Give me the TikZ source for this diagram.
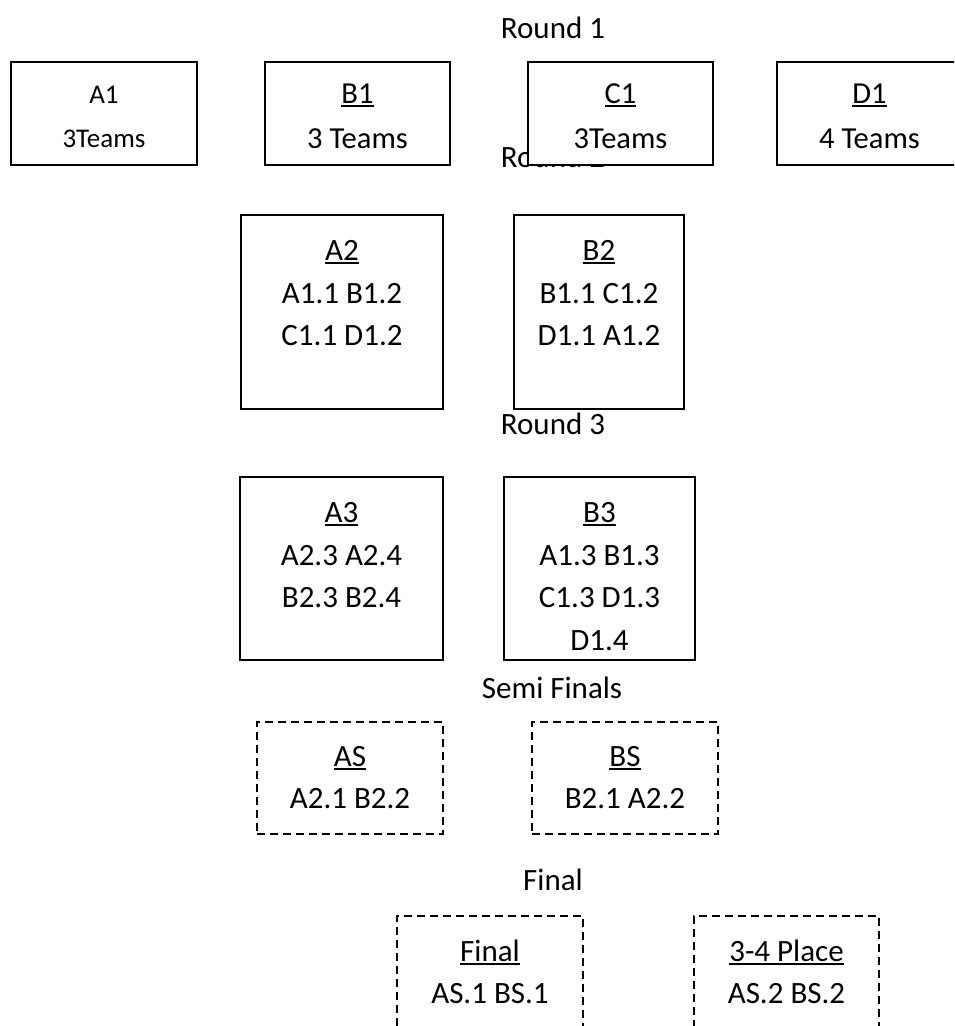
\documentclass[tikz,border=0pt]{standalone}
\usepackage{fontspec}
\setmainfont{Carlito}
\newcommand\myul[1]{\setbox0=\hbox{#1}\rlap{\rule[-4pt]{\wd0}{2.4pt}}\box0}
\tikzset{
  box/.style={draw, line width=1.5pt, fill=white, rectangle, inner sep=0pt, outer sep=0pt, anchor=north west},
  dbox/.style={box, dash pattern=on 8pt off 5pt},
  txt/.style={anchor=base, inner sep=0pt, font=\fontsize{31}{37}\selectfont},
  rtxt/.style={txt, font=\fontsize{30.5}{36}\selectfont},
  stxt/.style={txt, font=\fontsize{27}{32}\selectfont}
}
\begin{document}
\begin{tikzpicture}[x=1pt,y=-1pt]
\useasboundingbox (0,0) rectangle (954,1026);
\clip (0,0) rectangle (954,1026);
% headings
\node[txt] (r1) at (553,38) {Round 1};
\node[txt] (r2) at (553,167) {Round 2};
% Round 1
\node[box, minimum width=186pt, minimum height=103pt] (a1) at (11,62) {};
\node[box, minimum width=185pt, minimum height=103pt] (b1) at (265,62) {};
\node[box, minimum width=185pt, minimum height=103pt] (c1) at (528,62) {};
\node[box, minimum width=185pt, minimum height=103pt] (d1) at (777,62) {};
\node[stxt] (a1t) at (104,103) {A1};
\node[stxt] (a1n) at (104,147) {3Teams};
\node[rtxt] (b1t) at (357.5,103) {\myul{B1}};
\node[rtxt] (b1n) at (357.5,148) {3 Teams};
\node[rtxt] (c1t) at (620.5,103) {\myul{C1}};
\node[rtxt] (c1n) at (620.5,148) {3Teams};
\node[rtxt] (d1t) at (869.5,103) {\myul{D1}};
\node[rtxt] (d1n) at (869.5,148) {4 Teams};
% Round 2
\node[box, minimum width=202pt, minimum height=194pt] (a2) at (241,215) {};
\node[box, minimum width=170pt, minimum height=194pt] (b2) at (514,215) {};
\node[txt] (a2t) at (342,260) {\myul{A2}};
\node[txt] (a2l1) at (342,303) {A1.1 B1.2};
\node[txt] (a2l2) at (342,345) {C1.1 D1.2};
\node[txt] (b2t) at (599,260) {\myul{B2}};
\node[txt] (b2l1) at (599,303) {B1.1 C1.2};
\node[txt] (b2l2) at (599,345) {D1.1 A1.2};
% Round 3
\node[txt] (r3) at (553,434) {Round 3};
\node[box, minimum width=203pt, minimum height=183pt] (a3) at (240,477) {};
\node[box, minimum width=191pt, minimum height=183pt] (b3) at (504,477) {};
\node[txt] (a3t) at (341.5,522) {\myul{A3}};
\node[txt] (a3l1) at (341.5,565) {A2.3 A2.4};
\node[txt] (a3l2) at (341.5,607) {B2.3 B2.4};
\node[txt] (b3t) at (599.5,522) {\myul{B3}};
\node[txt] (b3l1) at (599.5,565) {A1.3 B1.3};
\node[txt] (b3l2) at (599.5,607) {C1.3 D1.3};
\node[txt] (b3l3) at (599.5,650) {D1.4};
% Semi finals
\node[txt] (sf) at (552,698) {Semi Finals};
\node[dbox, minimum width=186pt, minimum height=112pt] (as) at (257,722) {};
\node[dbox, minimum width=186pt, minimum height=112pt] (bs) at (532,722) {};
\node[txt] (ast) at (350,766) {\myul{AS}};
\node[txt] (asl) at (350,808) {A2.1 B2.2};
\node[txt] (bst) at (625,766) {\myul{BS}};
\node[txt] (bsl) at (625,808) {B2.1 A2.2};
% Final
\node[txt] (fl) at (553,890) {Final};
\node[dbox, minimum width=186pt, minimum height=150pt] (fb) at (397,916) {};
\node[dbox, minimum width=185pt, minimum height=150pt] (pb) at (694,916) {};
\node[txt] (fbt) at (490,961) {\myul{Final}};
\node[txt] (fbl) at (490,1003) {AS.1 BS.1};
\node[txt] (pbt) at (786.5,961) {\myul{3-4 Place}};
\node[txt] (pbl) at (786.5,1003) {AS.2 BS.2};
\end{tikzpicture}
\end{document}
